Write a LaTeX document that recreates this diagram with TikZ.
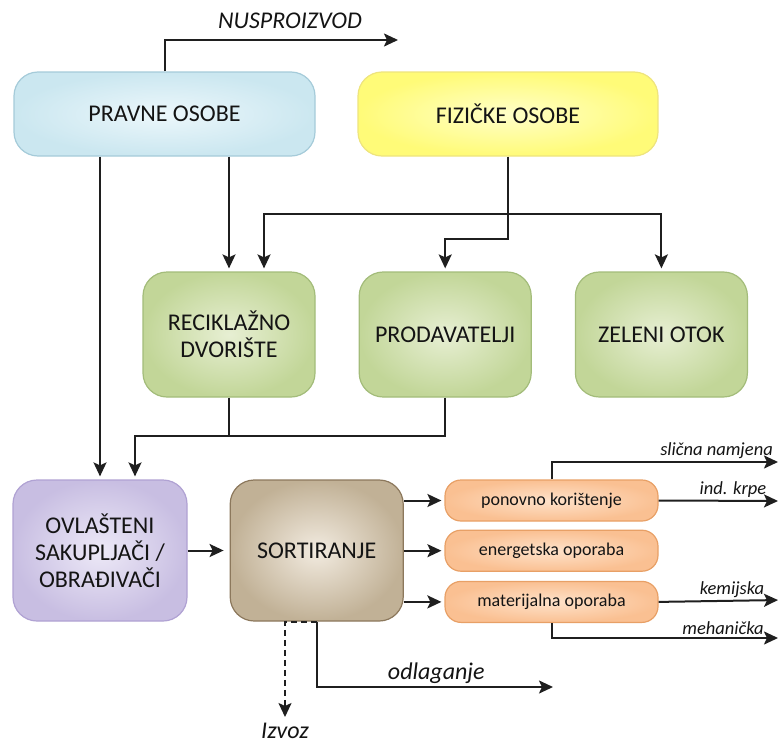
\documentclass[tikz,border=0pt]{standalone}
\usepackage{fontspec}
\setmainfont{Carlito}
\usetikzlibrary{arrows.meta,positioning,calc}
\definecolor{blueout}{RGB}{203,231,240}
\definecolor{bluein}{RGB}{236,247,251}
\definecolor{blueline}{RGB}{165,203,217}
\definecolor{yellowout}{RGB}{255,251,120}
\definecolor{yellowin}{RGB}{255,255,200}
\definecolor{yellowline}{RGB}{238,228,125}
\definecolor{greenout}{RGB}{194,214,152}
\definecolor{greenin}{RGB}{231,239,211}
\definecolor{greenline}{RGB}{163,188,122}
\definecolor{purpleout}{RGB}{200,190,226}
\definecolor{purplein}{RGB}{237,233,247}
\definecolor{purpleline}{RGB}{176,162,211}
\definecolor{brownout}{RGB}{193,177,150}
\definecolor{brownin}{RGB}{242,235,224}
\definecolor{brownline}{RGB}{140,120,92}
\definecolor{orangeout}{RGB}{250,192,146}
\definecolor{orangein}{RGB}{254,226,202}
\definecolor{orangeline}{RGB}{232,160,102}

\begin{document}
\begin{tikzpicture}[
    x=1pt, y=-1pt,
    node distance=8pt,
    box/.style={draw, line width=1.2pt, rounded corners=24pt, align=center, text=black!92, font=\fontsize{24}{27}\selectfont, inner sep=4pt},
    smallbox/.style={draw=orangeline, line width=1.2pt, rounded corners=16pt, minimum width=213pt, minimum height=41pt, outer color=orangeout, inner color=orangein, text=black!92, font=\fontsize{18}{20}\selectfont},
    flow/.style={-{Stealth[length=14pt, width=13pt, inset=3pt]}, line width=2pt, black!88, shorten >=3pt},
    tag/.style={font=\itshape\fontsize{18.5}{20}\selectfont, text=black!92, inner sep=2pt},
    bigtag/.style={font=\itshape\fontsize{24}{26}\selectfont, text=black!92, inner sep=2pt}
]
    \useasboundingbox (0,0) rectangle (779,744);

    % Sources
    \node[box, draw=blueline, outer color=blueout, inner color=bluein, minimum width=301pt, minimum height=84pt] (pravne) at (164.5,114) {PRAVNE OSOBE};
    \node[box, draw=yellowline, outer color=yellowout, inner color=yellowin, minimum width=300pt, minimum height=84pt] (fizicke) at (508,114) {FIZIČKE OSOBE};

    % Collection points
    \node[box, draw=greenline, outer color=greenout, inner color=greenin, minimum width=172pt, minimum height=125pt] (reciklazno) at (229,334.5) {RECIKLAŽNO\\DVORIŠTE};
    \node[box, draw=greenline, outer color=greenout, inner color=greenin, minimum width=172pt, minimum height=125pt, right=43pt of reciklazno] (prodavatelji) {PRODAVATELJI};
    \node[box, draw=greenline, outer color=greenout, inner color=greenin, minimum width=172pt, minimum height=125pt, right=43pt of prodavatelji] (zeleni) {ZELENI OTOK};

    % Processing
    \node[box, draw=purpleline, outer color=purpleout, inner color=purplein, minimum width=174pt, minimum height=141pt] (ovlasteni) at (100,550.5) {OVLAŠTENI\\SAKUPLJAČI /\\OBRAĐIVAČI};
    \node[box, draw=brownline, outer color=brownout, inner color=brownin, minimum width=173pt, minimum height=141pt, right=42pt of ovlasteni] (sortiranje) {SORTIRANJE};

    % Recovery
    \node[smallbox] (ponovno) at (551.5,500.5) {ponovno korištenje};
    \node[smallbox, below=8pt of ponovno] (energetska) {energetska oporaba};
    \node[smallbox, below=9pt of energetska] (materijalna) {materijalna oporaba};

    % Free ends and labels
    \coordinate (nusEnd) at (401,40);
    \coordinate (fizBus) at (445,214);
    \coordinate (colBus) at (300,436);
    \coordinate (slicnaEnd) at (781,462);
    \coordinate (krpeEnd) at (781,501);
    \coordinate (kemEnd) at (781,600);
    \coordinate (mehEnd) at (781,638);
    \coordinate (odlEnd) at (556,687);
    \node[bigtag] (nusTxt) at (290,21) {NUSPROIZVOD};
    \node[tag, anchor=east] (slicnaTxt) at (775,451) {slična namjena};
    \node[tag] (krpeTxt) at (733,490) {ind. krpe};
    \node[tag] (kemTxt) at (732,590) {kemijska};
    \node[tag] (mehTxt) at (723,628) {mehanička};
    \node[bigtag, inner sep=1pt] (izvoz) at (285,731) {Izvoz};

    \draw[flow] (pravne.north) |- (nusEnd);
    \draw[flow] (ovlasteni.north |- pravne.south) -- (ovlasteni.north);
    \draw[flow] (reciklazno.north |- pravne.south) -- (reciklazno.north);
    \draw[flow] (fizicke.south) -- ++(0,82) -| (prodavatelji.north);
    \draw[flow] (fizBus) -| ([xshift=35pt]reciklazno.north);
    \draw[flow] (fizBus) -| (zeleni.north);

    \draw[flow] (prodavatelji.south) |- (colBus) -| ([xshift=35pt]ovlasteni.north);
    \draw[line width=2pt, black!88] (reciklazno.south) -- (reciklazno.south |- colBus);

    \draw[flow, shorten >=6pt] (ovlasteni) -- (sortiranje);
    \draw[flow] (sortiranje.east |- ponovno) -- (ponovno.west);
    \draw[flow] (sortiranje.east |- energetska) -- (energetska.west);
    \draw[flow] (sortiranje.east |- materijalna) -- (materijalna.west);

    \draw[flow] (ponovno.north) |- (slicnaEnd);
    \draw[flow] (ponovno.east) -- (krpeEnd);
    \draw[flow] (materijalna.east) -- (kemEnd);
    \draw[flow] (materijalna.south) |- (mehEnd);

    \draw[flow] (sortiranje.south) |- (odlEnd) node[bigtag, above, pos=0.75] (odlTxt) {odlaganje};
    \draw[flow, dash pattern=on 6pt off 4pt, shorten >=5pt] (sortiranje.south) -| (izvoz.north);
\end{tikzpicture}
\end{document}
